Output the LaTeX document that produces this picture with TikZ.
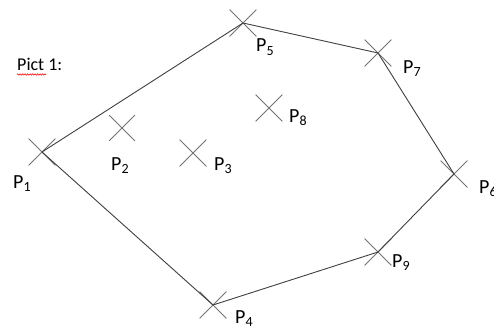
\documentclass[tikz,border=0pt]{standalone}
\usepackage{fontspec}
\setmainfont{Carlito}
\usetikzlibrary{shapes.misc,decorations.pathmorphing}
\begin{document}
\begin{tikzpicture}[x=1pt,y=-1pt,
  mark/.style={},
  pt/.style={draw=black!55, cross out, minimum size=26pt, inner sep=0pt, line width=0.8pt},
  ptsmall/.style={pt, minimum size=25pt},
  edge/.style={draw=black!75, line width=0.9pt},
  lbl/.style={anchor=base west, inner sep=0pt, font=\fontsize{20}{24}\selectfont}]
\useasboundingbox (0,0) rectangle (494,329);
\fill[white] (0,0) rectangle (494,329);
\clip (0,0) rectangle (494,329);
% title
\node[anchor=base west, inner sep=0pt, font=\fontsize{18}{22}\selectfont] (title) at (17,70) {Pict 1:};
\draw[red, line width=0.5pt, decorate, decoration={zigzag, segment length=2.5pt, amplitude=0.8pt}] (17,74.5) -- (46,74.5);
% points
\node[pt] (p1) at (42,152) {};
\node[ptsmall] (p2) at (122,128) {};
\node[pt] (p3) at (193,153) {};
\node[pt] (p4) at (213,305) {};
\node[pt] (p5) at (243,23) {};
\node[pt] (p6) at (454,174) {};
\node[pt] (p7) at (378,53) {};
\node[pt] (p8) at (269,108) {};
\node[pt] (p9) at (378,252) {};
% hull
\draw[edge] (p1.center) -- (p5.center) -- (p7.center) -- (p6.center) -- (p9.center) -- (p4.center) -- (p1.center);
% labels
\node[lbl] (l1) at (13,188) {P\textsubscript{1}};
\node[lbl] (l2) at (111,170) {P\textsubscript{2}};
\node[lbl] (l3) at (214,170) {P\textsubscript{3}};
\node[lbl] (l4) at (235,323) {P\textsubscript{4}};
\node[lbl] (l5) at (256,52) {P\textsubscript{5}};
\node[lbl] (l6) at (479,193) {P\textsubscript{6}};
\node[lbl] (l7) at (403,73) {P\textsubscript{7}};
\node[lbl] (l8) at (289,122) {P\textsubscript{8}};
\node[lbl] (l9) at (392,267) {P\textsubscript{9}};
\end{tikzpicture}
\end{document}
